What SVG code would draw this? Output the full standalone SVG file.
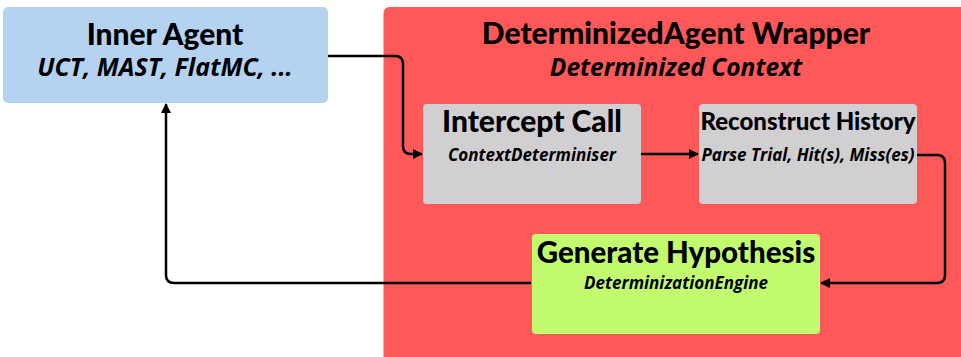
<svg xmlns="http://www.w3.org/2000/svg" width="961" height="357" viewBox="0 0 961 357">
<defs>
<marker id="ah" viewBox="0 0 10 10" refX="9" refY="5" markerWidth="4" markerHeight="4" orient="auto" markerUnits="strokeWidth">
<path d="M0,0 L10,5 L0,10 z" fill="#000"/>
</marker>
<style>
.t{font-family:Lato,"Noto Sans",sans-serif;font-weight:900;fill:#000;text-anchor:middle}
.s{font-family:"Open Sans","Noto Sans",sans-serif;font-weight:700;font-style:italic;fill:#000;text-anchor:middle}
.c{fill:none;stroke:#000;stroke-width:2.5;marker-end:url(#ah)}
</style>
</defs>
<rect width="961" height="357" fill="#fff"/>
<g id="wrapper">
<rect x="383.5" y="7" width="590" height="370" rx="6" fill="#ff5858"/>
<text class="t" x="676" y="44" font-size="30">DeterminizedAgent Wrapper</text>
<text class="s" x="676" y="76" font-size="24.5">Determinized Context</text>
</g>
<g id="connectors">
<path class="c" d="M328,56 H395 Q403,56 403,64 V146 Q403,154 411,154 H422"/>
<path class="c" d="M641,154 H698"/>
<path class="c" d="M917,155 H937 Q945,155 945,163 V275 Q945,283 937,283 H821"/>
<path class="c" d="M531,283 H174 Q166,283 166,275 V104"/>
</g>
<g id="inner-agent">
<rect x="3" y="7" width="325" height="96" rx="5" fill="#b5d3f1"/>
<text class="t" x="165" y="45" font-size="30">Inner Agent</text>
<text class="s" x="165" y="76" font-size="25">UCT, MAST, FlatMC, ...</text>
</g>
<g id="intercept-call">
<rect x="423" y="104" width="218" height="100" rx="4" fill="#d1cfd1"/>
<text class="t" x="532" y="132" font-size="30">Intercept Call</text>
<text class="s" x="532" y="161" font-size="17">ContextDeterminiser</text>
</g>
<g id="reconstruct-history">
<rect x="699" y="104" width="218" height="100" rx="4" fill="#d1cfd1"/>
<text class="t" x="808" y="130" font-size="24">Reconstruct History</text>
<text class="s" x="808" y="161" font-size="17">Parse Trial, Hit(s), Miss(es)</text>
</g>
<g id="generate-hypothesis">
<rect x="532" y="234" width="288" height="100" rx="4" fill="#c2fc6e"/>
<text class="t" x="676" y="263" font-size="29.5">Generate Hypothesis</text>
<text class="s" x="676" y="289" font-size="17">DeterminizationEngine</text>
</g>
</svg>
